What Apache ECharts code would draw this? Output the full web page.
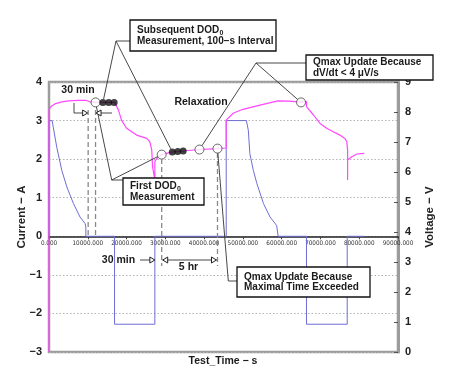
<!DOCTYPE html>
<html><head><meta charset="utf-8">
<script src="https://cdn.jsdelivr.net/npm/echarts@6/dist/echarts.min.js"></script>
<style>html,body{margin:0;padding:0;background:#fff}#c{width:473px;height:389px}</style>
</head><body><div id="c"></div>
<script>
// ---- data ----
const currentTime = [0,0,800,1100,2000,3300,4600,6300,8000,9300,9500,9500,16900,16900,27300,27300,45700,45700,50900,51400,51800,52700,53600,55300,57000,58700,59100,59100,66400,66400,76900,76900,81300];
const currentA    = [0,3,3,2.83,2.31,1.71,1.28,0.85,0.5,0.33,0.24,0,0,-2.28,-2.28,0,0,3,3,2.75,2.14,1.71,1.37,0.85,0.5,0.28,0.24,0,0,-2.28,-2.28,0,0];
const voltageTime = [0,0,500,1500,3000,5000,7500,9500,10500,12000,16900,17900,18700,20000,22600,25200,26000,26500,26700,27300,27300,28000,29060,31800,33200,34600,38800,43450,45700,45700,47500,50000,54400,59000,62000,65000,66400,66400,68200,69900,71600,73300,75000,76300,76800,77000,77000,77000,78100,79400,81300];
const voltageV    = [0,8.09,8.18,8.27,8.33,8.37,8.39,8.39,8.34,8.32,8.32,8.07,7.73,7.46,7.23,7.12,7.01,6.73,6.18,5.73,6.35,6.48,6.58,6.67,6.68,6.70,6.75,6.78,6.80,7.73,7.96,8.09,8.23,8.37,8.36,8.33,8.35,8.18,7.90,7.62,7.46,7.34,7.23,7.12,7.01,6.73,5.73,6.40,6.51,6.60,6.62];
const hollowT = [12000, 29060, 38800, 43450, 65000];
const hollowV = [8.32, 6.58, 6.75, 6.78, 8.32];
const dotT = [13900, 15400, 16800, 31800, 33200, 34600];
const dotV = [8.32, 8.32, 8.32, 6.67, 6.68, 6.70];
const xTicks = [0,10000,20000,30000,40000,50000,60000,70000,80000,90000];
const currentTicks = [-3,-2,-1,0,1,2,3,4];
const voltageTicks = [0,1,2,3,4,5,6,7,8,9];
const dashTimesTop = [10100, 12000];

const FONT = '"Liberation Sans", Arial, sans-serif';
const zip = (a, b) => a.map((v, i) => [v, b[i]]);

const chart = echarts.init(document.getElementById('c'));
chart.setOption({
  animation: false,
  backgroundColor: '#fff',
  grid: { left: 49, right: 75, top: 82, bottom: 37, show: true, borderColor: '#9c9c9c', borderWidth: 2.5 },
  xAxis: {
    type: 'value', min: xTicks[0], max: xTicks[xTicks.length-1], interval: xTicks[1]-xTicks[0], position: 'bottom',
    axisLine: { onZero: false, lineStyle: { color: '#222', width: 1.5 } },
    axisTick: { show: true, length: 3, lineStyle: { color: '#444' } },
    axisLabel: { fontSize: 6.3, fontFamily: '"Liberation Sans Narrow", "DejaVu Sans Condensed", sans-serif', color: '#333', margin: 4,
      formatter: v => v.toFixed(3) },
    splitLine: { show: false }
  },
  yAxis: [{
    type: 'value', min: currentTicks[0], max: currentTicks[currentTicks.length-1], interval: 1, position: 'left',
    name: 'Current − A', nameLocation: 'middle', nameRotate: 90, nameGap: 21, nameMoveOverlap: false,
    nameTextStyle: { fontFamily: FONT, fontWeight: 'bold', fontSize: 11.5, color: '#222' },
    axisLine: { show: false }, axisTick: { show: false },
    axisLabel: { fontFamily: FONT, fontWeight: 'bold', fontSize: 11, color: '#222', margin: 7,
      formatter: v => String(v).replace('-', '−') },
    splitLine: { show: true, lineStyle: { color: '#b4b4b4', type: [1.5, 2], width: 1 } }
  }, {
    type: 'value', min: voltageTicks[0], max: voltageTicks[voltageTicks.length-1], interval: 1, position: 'right',
    name: 'Voltage − V', nameLocation: 'middle', nameRotate: 90, nameGap: 26, nameMoveOverlap: false,
    nameTextStyle: { fontFamily: FONT, fontWeight: 'bold', fontSize: 11.5, color: '#222' },
    axisLine: { show: true, lineStyle: { color: '#9c9c9c', width: 3 } },
    axisTick: { show: true, inside: true, length: 4, lineStyle: { color: '#555' } },
    axisLabel: { fontFamily: FONT, fontWeight: 'bold', fontSize: 11, color: '#222', margin: 7 },
    splitLine: { show: false }
  }],
  series: [
    { type: 'line', name: 'Current', yAxisIndex: 0, data: zip(currentTime, currentA), symbol: 'none', clip: false,
      lineStyle: { color: '#6e6ed4', width: 1 }, z: 3 },
    { type: 'line', name: 'Voltage', yAxisIndex: 1, data: zip(voltageTime, voltageV), symbol: 'none', clip: false,
      lineStyle: { color: '#ff48ff', width: 1.2 }, z: 4 },
    { type: 'scatter', yAxisIndex: 1, data: zip(hollowT, hollowV), symbolSize: 9,
      itemStyle: { color: '#fff', borderColor: '#444', borderWidth: 1 }, z: 6 },
    { type: 'scatter', yAxisIndex: 1, data: zip(dotT, dotV), symbolSize: 7,
      itemStyle: { color: '#111' }, z: 6 }
  ]
});

const PV = (t, v) => chart.convertToPixel({ xAxisIndex: 0, yAxisIndex: 1 }, [t, v]);
const PI = (t, v) => chart.convertToPixel({ xAxisIndex: 0, yAxisIndex: 0 }, [t, v]);

// move the time axis (line, ticks, labels) up to current = 0
const xOffset = PI(0, 0)[1] - PI(0, currentTicks[0])[1];
chart.setOption({ xAxis: { offset: xOffset } });

// ---- annotations (callouts placed in pixels, anchored to data via the scales) ----
const measure = (() => { const c = document.createElement('canvas').getContext('2d'); return (s, f) => { c.font = f; return c.measureText(s).width; }; })();
const toward = (from, to, r) => { const dx = to[0]-from[0], dy = to[1]-from[1], d = Math.hypot(dx, dy); return [to[0]-dx/d*r, to[1]-dy/d*r]; };
const G = [];
const line = (pts, extra) => G.push(Object.assign({ type: 'polyline', shape: { points: pts }, style: { stroke: '#333', lineWidth: 0.9, fill: null }, z: 100 }, extra || {}));
const dash = (p1, p2) => G.push({ type: 'line', shape: { x1: p1[0], y1: p1[1], x2: p2[0], y2: p2[1] }, style: { stroke: '#8a8a8a', lineWidth: 1.3, lineDash: [5, 3] }, z: 90 });
const txt = (s, x, y, size, align, vAlign) => G.push({ type: 'text', x: x, y: y, z: 110, style: { text: s, font: 'bold ' + size + 'px ' + FONT, fill: '#1a1a1a', align: align || 'center', verticalAlign: vAlign || 'middle', textAlign: align || 'center', textVerticalAlign: vAlign || 'middle' } });
const tri = (tip, dir) => { const [x, y] = tip; const b = x - 5*dir; G.push({ type: 'polygon', shape: { points: [[b, y-3], [x, y], [b, y+3]] }, style: { fill: '#fff', stroke: '#222', lineWidth: 1 }, z: 105 }); };
// box: lines may carry a subscript as [main, sub]
const box = (x, y, w, h, lines) => {
  G.push({ type: 'rect', shape: { x: x, y: y, width: w, height: h }, style: { fill: '#fff', stroke: '#111', lineWidth: 1.3 }, z: 108 });
  const lh = 10.5, top = y + h/2 - lh*lines.length/2;
  lines.forEach((ln, i) => {
    const main = Array.isArray(ln) ? ln[0] : ln;
    const cy = top + lh*i + lh/2;
    txt(main, x + 7, cy, 10, 'left');
    if (Array.isArray(ln)) {
      const wmain = measure(main, 'bold 10px ' + FONT);
      txt(ln[1], x + 7 + wmain + 0.3, cy + 3, 7, 'left');
    }
  });
};

// dashed guide lines
dashTimesTop.forEach(t => dash([PI(t, 0)[0], 110], PI(t, 0)));
[1, 3].forEach(i => { const c = PV(hollowT[i], hollowV[i]); dash([c[0], c[1] + 4.5], [c[0], 266]); });

// 30 min (top)
const xa = PI(dashTimesTop[0], 0)[0], xb = PI(dashTimesTop[1], 0)[0];
line([[74, 103], [74, 113], [xa - 1, 113]]); tri([xa - 0.5, 113], 1);
line([[xb + 1, 113], [112, 113]]); tri([xb + 0.5, 113], -1);
txt('30 min', 78, 90, 10.5);

// 30 min / 5 hr (bottom)
const xd = PI(currentTime[14], 0)[0];
const xc1 = PV(hollowT[1], 0)[0], xc3 = PV(hollowT[3], 0)[0];
line([[140, 260], [xd, 260]]); tri([xd, 260], 1);
line([[xc1 + 1, 260], [xc3 - 1, 260]]); tri([xc1 + 1, 260], -1); tri([xc3 - 1, 260], 1);
txt('30 min', 118.5, 260, 10.5);
txt('5 hr', 188.5, 267, 10.5);
txt('Relaxation', 201, 102, 10.5);

// leaders
const d0 = PV(dotT[0], dotV[0]), d3 = PV(dotT[3], dotV[3]);
const h = hollowT.map((t, i) => PV(t, hollowV[i]));
const j1 = [116, 41];
line([[130, 41], j1, toward(j1, d0, 3.5)]); line([j1, toward(j1, d3, 3.5)]);
const j2 = [256, 63];
line([[306, 63], j2, toward(j2, h[2], 4.5)]); line([j2, toward(j2, h[4], 4.5)]);
const j3 = [111.7, 180];
line([[123, 180], j3, toward(j3, h[0], 4.5)]); line([j3, toward(j3, h[1], 4.5)]);
const j4 = [228.3, 281];
line([[237, 281], j4, toward(j4, h[3], 4.5)]);

box(130, 20, 146, 31, [['Subsequent DOD', '0'], 'Measurement, 100−s Interval']);
box(306, 55, 127, 25, ['Qmax Update Because', 'dV/dt < 4 μV/s']);
box(123, 178, 81, 27, [['First DOD', '0'], 'Measurement']);
box(237, 267, 133, 30, ['Qmax Update Because', 'Maximal Time Exceeded']);

txt('Test_Time − s', 223, 361, 10.5);

chart.setOption({ graphic: G });
</script></body></html>
